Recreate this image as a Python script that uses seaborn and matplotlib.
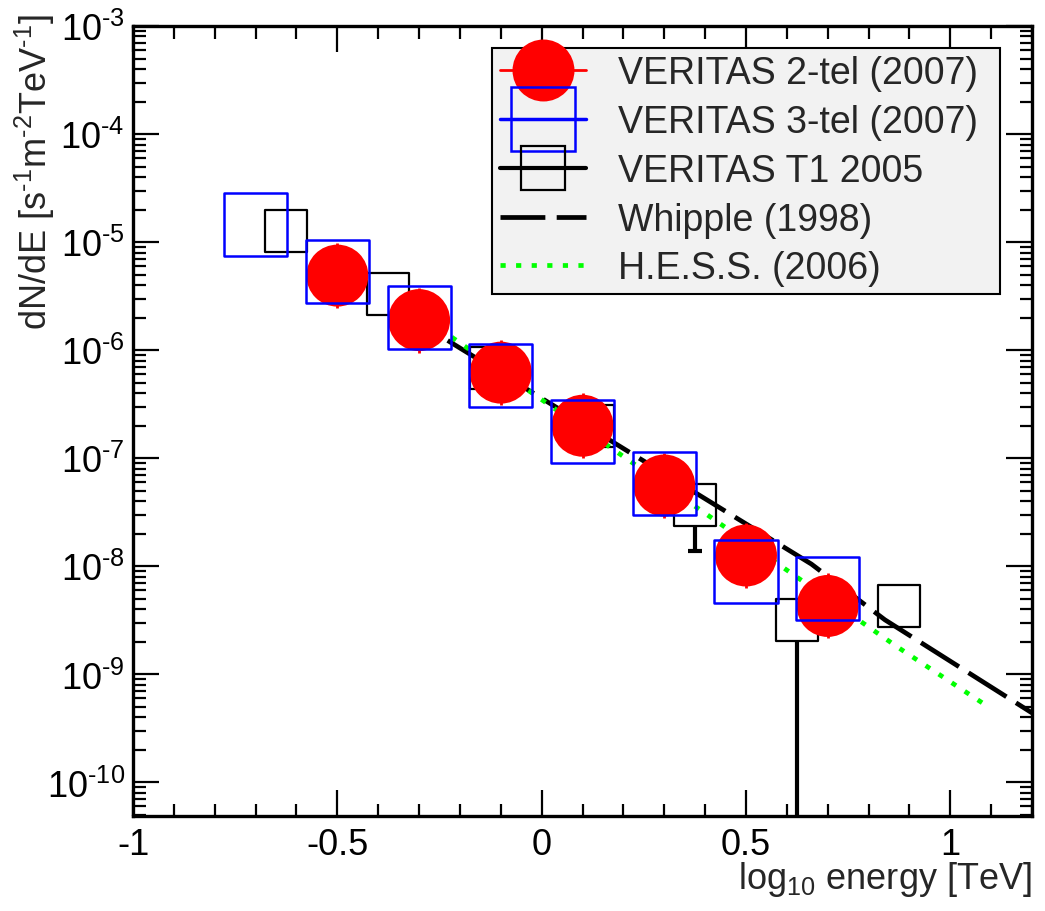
import numpy as np
import matplotlib
matplotlib.use("Agg")
import matplotlib.pyplot as plt
from matplotlib.lines import Line2D
from matplotlib.ticker import LogLocator, MultipleLocator, FuncFormatter, NullFormatter
import seaborn as sns

# ---------------- data ----------------
v2_x = [-0.5, -0.3, -0.1, 0.1, 0.3, 0.5, 0.7]
v2_y = [4.9e-6, 1.9e-6, 6.2e-7, 2.0e-7, 5.6e-8, 1.26e-8, 4.3e-9]
v2_lo = [2.45e-6, 0.95e-6, 3.1e-7, 1.0e-7, 2.8e-8, 0.63e-8, 2.15e-9]
v2_hi = [9.8e-6, 3.8e-6, 1.24e-6, 4.0e-7, 1.12e-7, 2.52e-8, 8.6e-9]

v3_x = [-0.7, -0.5, -0.3, -0.1, 0.1, 0.3, 0.5, 0.7]
v3_y = [1.47e-5, 5.4e-6, 2.0e-6, 5.8e-7, 1.78e-7, 5.8e-8, 8.9e-9, 6.3e-9]

t1_x = [-0.625, -0.375, -0.125, 0.125, 0.375, 0.625, 0.875]
t1_y = [1.26e-5, 3.3e-6, 6.8e-7, 2.0e-7, 3.7e-8, 3.2e-9, 4.3e-9]
t1_lo = [1.26e-5, 3.3e-6, 6.8e-7, 2.0e-7, 1.4e-8, 1e-12, 4.3e-9]
t1_hi = [1.26e-5, 3.3e-6, 6.8e-7, 2.0e-7, 3.7e-8, 3.2e-9, 4.3e-9]

whipple_x = [-0.23, 0.66, 0.84, 1.2]
whipple_y = [1.23e-6, 1.05e-8, 3.2e-9, 4.4e-10]

hess_x = [-0.22, 0.87, 1.09]
hess_y = [1.32e-6, 1.8e-9, 5.1e-10]

labels = ["VERITAS 2-tel (2007)", "VERITAS 3-tel (2007)", "VERITAS T1 2005",
          "Whipple (1998)", "H.E.S.S. (2006)"]

# ---------------- style ----------------
sns.set_theme(style="ticks")
plt.rcParams["font.family"] = ["Liberation Sans", "DejaVu Sans"]
plt.rcParams["mathtext.fontset"] = "custom"
plt.rcParams["mathtext.rm"] = "Liberation Sans"
plt.rcParams["mathtext.it"] = "Liberation Sans:italic"
plt.rcParams["mathtext.bf"] = "Liberation Sans:bold"
plt.rcParams["axes.unicode_minus"] = False

RED, BLUE, GREEN = "#ff0000", "#0000ff", "#00ff00"
FS = 26
YMIN, YMAX = 4.9e-11, 1e-3

fig = plt.figure(figsize=(10.45, 9.12), dpi=100, facecolor="white")
ax = fig.add_axes([0.1273, 0.1042, 0.8603, 0.8662])
ax.set_facecolor("white")

# model lines
sns.lineplot(x=whipple_x, y=whipple_y, ax=ax, color="black", lw=3.4, zorder=3)
ax.lines[-1].set_dashes([9.5, 2.4])
sns.lineplot(x=hess_x, y=hess_y, ax=ax, color=GREEN, lw=3.4, zorder=3)
ax.lines[-1].set_dashes([1.1, 2.2])

# T1 error bars + markers (white filled so bars hidden inside)
t1_y_arr = np.array(t1_y)
ax.errorbar(t1_x, t1_y, yerr=[t1_y_arr - np.array(t1_lo), np.array(t1_hi) - t1_y_arr],
            fmt="none", ecolor="black", elinewidth=3, capsize=5, capthick=3, zorder=1)
sns.scatterplot(x=t1_x, y=t1_y, ax=ax, marker="s", s=915, color="white",
                edgecolor="black", linewidth=1.6, zorder=2, legend=False)

# VERITAS 2-tel
v2_arr = np.array(v2_y)
ax.errorbar(v2_x, v2_y, yerr=[v2_arr - np.array(v2_lo), np.array(v2_hi) - v2_arr],
            fmt="none", ecolor=RED, elinewidth=2, capsize=0, zorder=4)
sns.scatterplot(x=v2_x, y=v2_y, ax=ax, marker="o", s=1990, color=RED,
                edgecolor="none", linewidth=0, zorder=4, legend=False)

# VERITAS 3-tel
sns.scatterplot(x=v3_x, y=v3_y, ax=ax, marker="s", s=2060, color=BLUE,
                edgecolor=BLUE, linewidth=1.8, zorder=5, legend=False)
ax.collections[-1].set_facecolor("none")

# ---------------- axes ----------------
ax.set_yscale("log")
ax.set_xlim(-1, 1.2)
ax.set_ylim(YMIN, YMAX)
ax.xaxis.set_major_locator(MultipleLocator(0.5))
ax.xaxis.set_minor_locator(MultipleLocator(0.1))
ax.xaxis.set_major_formatter(FuncFormatter(lambda v, p: "%g" % v))
ax.yaxis.set_major_locator(LogLocator(base=10, numticks=20))
ax.yaxis.set_minor_locator(LogLocator(base=10, subs=np.arange(2, 10), numticks=20))


def ylab(v, p):
    if v < YMIN or v > YMAX * 1.01:
        return ""
    return r"10$^{\text{-%d}}$" % round(-np.log10(v))


ax.yaxis.set_major_formatter(FuncFormatter(ylab))
ax.yaxis.set_minor_formatter(NullFormatter())
ax.tick_params(which="both", direction="in", top=True, right=True, colors="black",
               labelsize=FS, width=1.6)
ax.tick_params(which="major", length=19)
ax.tick_params(which="minor", length=9)
ax.tick_params(axis="x", pad=8)
ax.tick_params(axis="y", pad=6)
for s in ax.spines.values():
    s.set_linewidth(2.4)
    s.set_color("black")
ax.set_xlabel("")
ax.set_ylabel("")
ax.xaxis.label.set_visible(False)
ax.yaxis.label.set_visible(False)

fig.text(35 / 1045, 1 - 14 / 912, r"dN/dE [s$^{\text{-1}}$m$^{\text{-2}}$TeV$^{\text{-1}}$]",
         rotation=90, ha="center", va="top", fontsize=FS)
fig.text(1032 / 1045, 1 - 860 / 912, r"log$_{10}$ energy [TeV]", ha="right", va="top",
         fontsize=FS)

# ---------------- legend ----------------
handles = [
    Line2D([], [], color=RED, lw=2, marker="o", markersize=44.6, markeredgewidth=0),
    Line2D([], [], color=BLUE, lw=2.5, marker="s", markersize=46, markerfacecolor="none",
           markeredgecolor=BLUE, markeredgewidth=1.8),
    Line2D([], [], color="black", lw=3, marker="s", markersize=31.5, markerfacecolor="none",
           markeredgecolor="black", markeredgewidth=1.6),
    Line2D([], [], color="black", lw=3.4, dashes=[9.5, 2.4]),
    Line2D([], [], color=GREEN, lw=3.4, dashes=[1.1, 2.2]),
]
leg = ax.legend(handles, labels, loc="upper left", bbox_to_anchor=(0.3993, 0.3, 0.565, 0.6722),
                mode="expand", frameon=True, fancybox=False, edgecolor="black",
                facecolor="#f2f2f2", framealpha=1, fontsize=27, handlelength=2.3,
                handletextpad=0.85, labelspacing=0.34, borderpad=0.2, borderaxespad=0,
                numpoints=1)
leg.get_frame().set_linewidth(1.5)
leg.set_zorder(10)

fig.savefig("out.png", dpi=100, facecolor="white")
